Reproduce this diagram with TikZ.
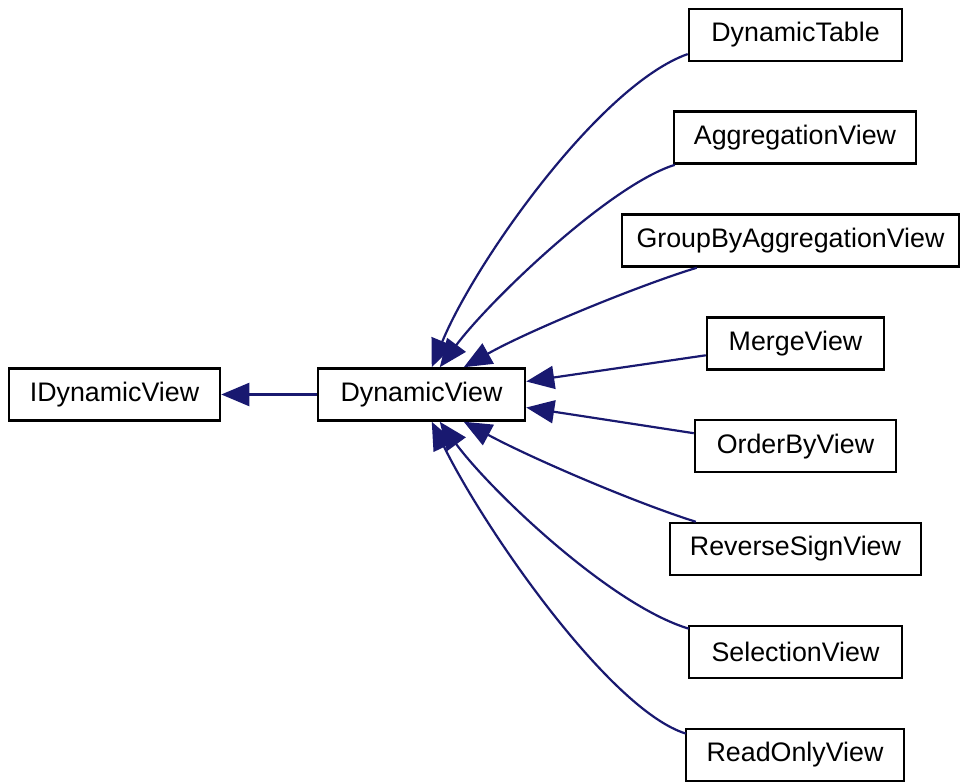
\documentclass[tikz,border=0pt]{standalone}
\usepackage{fontspec}
\setmainfont{Liberation Sans}
\usetikzlibrary{arrows.meta,calc}
\definecolor{edgeblue}{HTML}{191970}
\begin{document}
\begin{tikzpicture}[x=1pt,y=-1pt,
  cls/.style={draw=black,line width=2.5pt,fill=white,inner sep=0pt,
    minimum height=52pt,font=\fontsize{26.8}{32}\selectfont},
  edge/.style={draw=edgeblue,line width=2.2pt,
    -{Triangle[length=28pt,width=23pt,fill=edgeblue]}}]
\useasboundingbox (0,0) rectangle (960,783);

\node[cls,minimum width=211pt] (idv) at (114.5,394.5) {IDynamicView};
\node[cls,minimum width=207pt] (dv)  at (421.5,394.5) {DynamicView};
\node[cls,minimum width=213pt] (dt)  at (795.5,34.8)  {DynamicTable};
\node[cls,minimum width=242pt] (agg) at (795,137.6)   {AggregationView};
\node[cls,minimum width=337pt] (gb)  at (790.5,240.5) {GroupByAggregationView};
\node[cls,minimum width=177pt] (mv)  at (795.5,343.3) {MergeView};
\node[cls,minimum width=201pt] (ob)  at (795.5,446.2) {OrderByView};
\node[cls,minimum width=251pt] (rs)  at (795.5,549)   {ReverseSignView};
\node[cls,minimum width=213pt] (sel) at (795.5,651.9) {SelectionView};
\node[cls,minimum width=218pt] (ro)  at (795,754.8)   {ReadOnlyView};

% inheritance edges
\draw[edge] (dv.west) -- (idv.east);
\draw[edge] ($(dt.south west)+(0,-8)$) .. controls (600,85) and (475,262) .. ($(dv.north west)+(115,0)$);
\draw[edge] ($(agg.south west)+(2,0)$) .. controls (610,185) and (490,300) .. ($(dv.north west)+(123,0)$);
\draw[edge] ($(gb.south west)+(76,0)$) .. controls (640,285) and (530,330) .. ($(dv.north west)+(147,0)$);
\draw[edge] ($(mv.west)+(0,12)$) -- ($(dv.east)+(0,-13)$);
\draw[edge] ($(ob.west)+(0,-13)$) -- ($(dv.east)+(0,13)$);
\draw[edge] ($(rs.north west)+(27,0)$) .. controls (636,503) and (533,459) .. ($(dv.south west)+(147,0)$);
\draw[edge] ($(sel.north west)+(1,4)$) .. controls (610,605) and (490,490) .. ($(dv.south west)+(123,0)$);
\draw[edge] ($(ro.north west)+(1,6)$) .. controls (610,710) and (485,530) .. ($(dv.south west)+(115,0)$);
\end{tikzpicture}
\end{document}
